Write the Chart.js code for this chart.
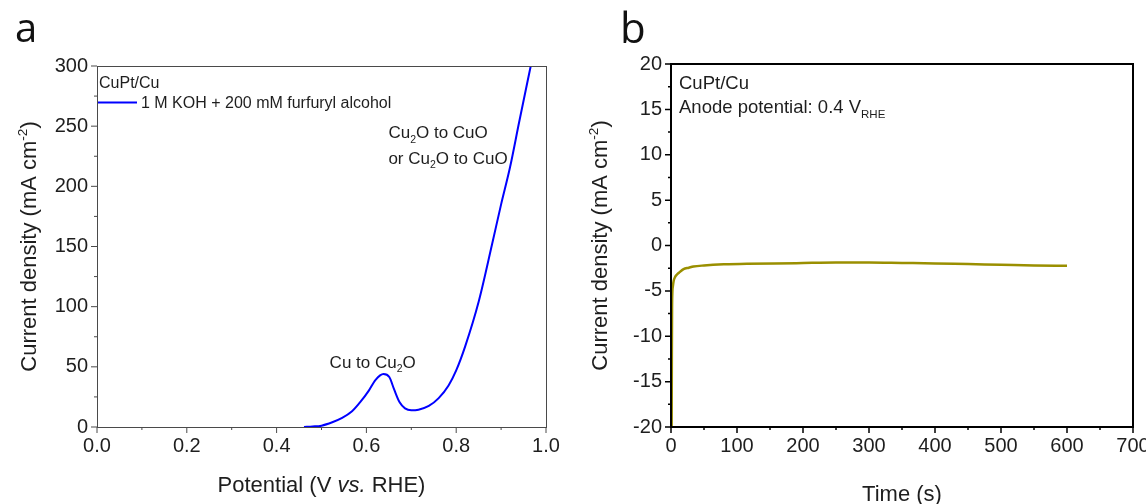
<!DOCTYPE html>
<html><head><meta charset="utf-8">
<script src="https://cdn.jsdelivr.net/npm/chart.js@4.4.1/dist/chart.umd.min.js"></script>
<style>
html,body{margin:0;padding:0;background:#fff;overflow:hidden;width:1146px;height:504px}
#ca{position:absolute;left:0;top:0}
#cb{position:absolute;left:572px;top:0}
</style>
</head><body>
<canvas id="ca" width="572" height="504"></canvas>
<canvas id="cb" width="574" height="504"></canvas>
<script>
// ---------- Panel a: LSV ----------
const potential = [0.461,0.48,0.50,0.524,0.546,0.568,0.587,0.605,0.62,0.638,0.651,0.662,0.674,0.686,0.70,0.716,0.739,0.761,0.783,0.80,0.82,0.85,0.88,0.90,0.92,0.94,0.966];
const currentA  = [0,0.4,1.1,3.9,7.5,13,21,30,39,44,41.5,31,20.5,15.5,13.9,14.4,17.5,24,34.5,47,67,104,152,185,216,253,300];
const xTicksA = [0,0.2,0.4,0.6,0.8,1.0];
const xTickLabelsA = ['0.0','0.2','0.4','0.6','0.8','1.0'];
const xMinorA = [0.1,0.3,0.5,0.7,0.9];
const yTicksA = [0,50,100,150,200,250,300];
const yTickLabelsA = ['0','50','100','150','200','250','300'];
const yMinorA = [25,75,125,175,225,275];
const seriesLabelA = '1 M KOH + 200 mM furfuryl alcohol';
const sampleA = 'CuPt/Cu';

// ---------- Panel b: chronoamperometry ----------
const time     = [1,1.3,1.6,2,3,4,6,9,12,19,27,34,50,80,115,190,250,300,350,400,450,500,550,600];
const currentB = [-20,-12,-7,-5.3,-4.4,-3.9,-3.5,-3.2,-3.0,-2.6,-2.45,-2.32,-2.2,-2.07,-2.0,-1.95,-1.87,-1.87,-1.92,-1.97,-2.05,-2.12,-2.2,-2.23];
const xTicksB = [0,100,200,300,400,500,600,700];
const xTickLabelsB = ['0','100','200','300','400','500','600','700'];
const xMinorB = [50,150,250,350,450,550,650];
const yTicksB = [-20,-15,-10,-5,0,5,10,15,20];
const yTickLabelsB = ['-20','-15','-10','-5','0','5','10','15','20'];
const yMinorB = [-17.5,-12.5,-7.5,-2.5,2.5,7.5,12.5,17.5];

const FONT = '"Liberation Sans", Arial, Helvetica, sans-serif';
const TXT = '#1e1e1e';

function segFont(s, size){
  const sz = (s.sub||s.sup) ? size*0.62 : size;
  return (s.it?'italic ':'') + sz.toFixed(1) + 'px ' + FONT;
}
function drawRich(ctx, segs, x, y, size, align, rot, color){
  ctx.save();
  ctx.translate(x, y);
  if (rot) ctx.rotate(-Math.PI/2);
  ctx.fillStyle = color || TXT;
  ctx.textBaseline = 'alphabetic';
  ctx.textAlign = 'left';
  let w = 0;
  for (const s of segs){ ctx.font = segFont(s,size); w += ctx.measureText(s.t).width; }
  let cx = align==='center' ? -w/2 : (align==='right' ? -w : 0);
  for (const s of segs){
    ctx.font = segFont(s,size);
    const dy = s.sub ? size*0.26 : (s.sup ? -size*0.42 : 0);
    ctx.fillText(s.t, cx, dy);
    cx += ctx.measureText(s.t).width;
  }
  ctx.restore();
}
function drawTicks(chart, opt){
  const ctx = chart.ctx, a = chart.chartArea, xs = chart.scales.x, ys = chart.scales.y;
  ctx.save();
  ctx.strokeStyle = opt.color; ctx.lineWidth = opt.tickWidth; ctx.lineCap='butt';
  ctx.beginPath();
  const ax = (vals, len) => vals.forEach(v => { const p = xs.getPixelForValue(v); ctx.moveTo(p, a.bottom); ctx.lineTo(p, a.bottom + len); });
  const ay = (vals, len) => vals.forEach(v => { const p = ys.getPixelForValue(v); ctx.moveTo(a.left, p); ctx.lineTo(a.left - len, p); });
  ax(opt.xMaj, opt.maj); ax(opt.xMin, opt.min);
  ay(opt.yMaj, opt.maj); ay(opt.yMin, opt.min);
  ctx.stroke();
  ctx.lineWidth = opt.frameWidth;
  const o = opt.frameWidth % 2 ? 0.5 : 0;
  ctx.strokeRect(Math.round(a.left)+o, Math.round(a.top)+o, Math.round(a.right-a.left), Math.round(a.bottom-a.top));
  ctx.restore();
}

function axisCommon(ticksArr, labels, min, max, size, fixW, fixH, pad){
  return {
    type: 'linear', min: min, max: max,
    grid: { display: false, drawTicks: false },
    border: { display: false },
    afterBuildTicks: s => { s.ticks = ticksArr.map(v => ({ value: v })); },
    ticks: {
      autoSkip: false, maxRotation: 0, padding: pad, color: TXT,
      font: { family: FONT, size: size },
      callback: (v) => { const i = ticksArr.findIndex(t => Math.abs(t - v) < 1e-9); return i >= 0 ? labels[i] : ''; }
    },
    afterFit: s => {
      if (fixW) s.width = fixW;
      if (fixH) s.height = fixH;
      s.paddingLeft = 0; s.paddingRight = 0; s.paddingTop = 0; s.paddingBottom = 0;
    }
  };
}

// ---------- Chart a ----------
const decoA = {
  id: 'decoA',
  afterDraw(chart){
    const ctx = chart.ctx, a = chart.chartArea, xs = chart.scales.x, ys = chart.scales.y;
    drawTicks(chart, { color:'#4a4a4a', tickWidth:1, frameWidth:1, maj:6, min:3,
      xMaj:xTicksA, xMin:xMinorA, yMaj:yTicksA, yMin:yMinorA });
    ctx.save(); ctx.fillStyle = '#111'; ctx.font = '40px "Open Sans", ' + FONT; ctx.textBaseline='alphabetic';
    ctx.fillText('a', 15, 42); ctx.restore();
    drawRich(ctx, [{t:'Potential (V '},{t:'vs.',it:1},{t:' RHE)'}], (a.left+a.right)/2, 492, 22, 'center', false);
    drawRich(ctx, [{t:'Current density (mA cm'},{t:'-2',sup:1},{t:')'}], 36, (a.top+a.bottom)/2, 22, 'center', true);
    drawRich(ctx, [{t:sampleA}], a.left + 2, 88, 16, 'left', false);
    ctx.save(); ctx.strokeStyle = '#0000ff'; ctx.lineWidth = 2;
    ctx.beginPath(); ctx.moveTo(a.left + 1, 102.5); ctx.lineTo(a.left + 40, 102.5); ctx.stroke(); ctx.restore();
    drawRich(ctx, [{t:seriesLabelA}], a.left + 44, 108, 16, 'left', false);
    drawRich(ctx, [{t:'Cu to Cu'},{t:'2',sub:1},{t:'O'}], xs.getPixelForValue(0.614), ys.getPixelForValue(49), 17, 'center', false);
    drawRich(ctx, [{t:'Cu'},{t:'2',sub:1},{t:'O to CuO'}], xs.getPixelForValue(0.649), ys.getPixelForValue(240), 17, 'left', false);
    drawRich(ctx, [{t:'or Cu'},{t:'2',sub:1},{t:'O to CuO'}], xs.getPixelForValue(0.649), ys.getPixelForValue(218.5), 17, 'left', false);
  }
};

new Chart(document.getElementById('ca'), {
  type: 'line',
  data: { datasets: [{
    label: seriesLabelA,
    data: potential.map((p, i) => ({ x: p, y: currentA[i] })),
    borderColor: '#0000ff', borderWidth: 2, pointRadius: 0, fill: false,
    cubicInterpolationMode: 'monotone'
  }]},
  options: {
    responsive: false, animation: false, devicePixelRatio: 1,
    layout: { padding: { left: 0, top: 66, right: 26, bottom: 0 } },
    plugins: { legend: { display: false }, tooltip: { enabled: false } },
    scales: {
      x: axisCommon(xTicksA, xTickLabelsA, 0, 1, 20, null, 77, 7),
      y: axisCommon(yTicksA, yTickLabelsA, 0, 300, 20, 97, null, 9)
    }
  },
  plugins: [decoA]
});

// ---------- Chart b ----------
const decoB = {
  id: 'decoB',
  afterDraw(chart){
    const ctx = chart.ctx, a = chart.chartArea;
    drawTicks(chart, { color:'#000', tickWidth:1.5, frameWidth:2, maj:6, min:3,
      xMaj:xTicksB, xMin:xMinorB, yMaj:yTicksB, yMin:yMinorB });
    ctx.save(); ctx.fillStyle = '#111'; ctx.font = '42px "Open Sans", ' + FONT; ctx.textBaseline='alphabetic';
    ctx.fillText('b', 48, 43); ctx.restore();
    drawRich(ctx, [{t:'Time (s)'}], (a.left+a.right)/2, 501, 22, 'center', false);
    drawRich(ctx, [{t:'Current density (mA cm'},{t:'-2',sup:1},{t:')'}], 35, (a.top+a.bottom)/2, 22, 'center', true);
    drawRich(ctx, [{t:'CuPt/Cu'}], a.left + 8, 89, 18.5, 'left', false);
    drawRich(ctx, [{t:'Anode potential: 0.4 V'},{t:'RHE',sub:1}], a.left + 8, 113, 18.5, 'left', false);
  }
};

new Chart(document.getElementById('cb'), {
  type: 'line',
  data: { datasets: [{
    label: 'CuPt/Cu',
    data: time.map((t, i) => ({ x: t, y: currentB[i] })),
    borderColor: '#9a8f00', borderWidth: 2.5, pointRadius: 0, fill: false,
    cubicInterpolationMode: 'monotone'
  }]},
  options: {
    responsive: false, animation: false, devicePixelRatio: 1,
    layout: { padding: { left: 0, top: 64, right: 13, bottom: 0 } },
    plugins: { legend: { display: false }, tooltip: { enabled: false } },
    scales: {
      x: axisCommon(xTicksB, xTickLabelsB, 0, 700, 20, null, 77, 7),
      y: axisCommon(yTicksB, yTickLabelsB, -20, 20, 20, 99, null, 9)
    }
  },
  plugins: [decoB]
});
</script>
</body></html>
